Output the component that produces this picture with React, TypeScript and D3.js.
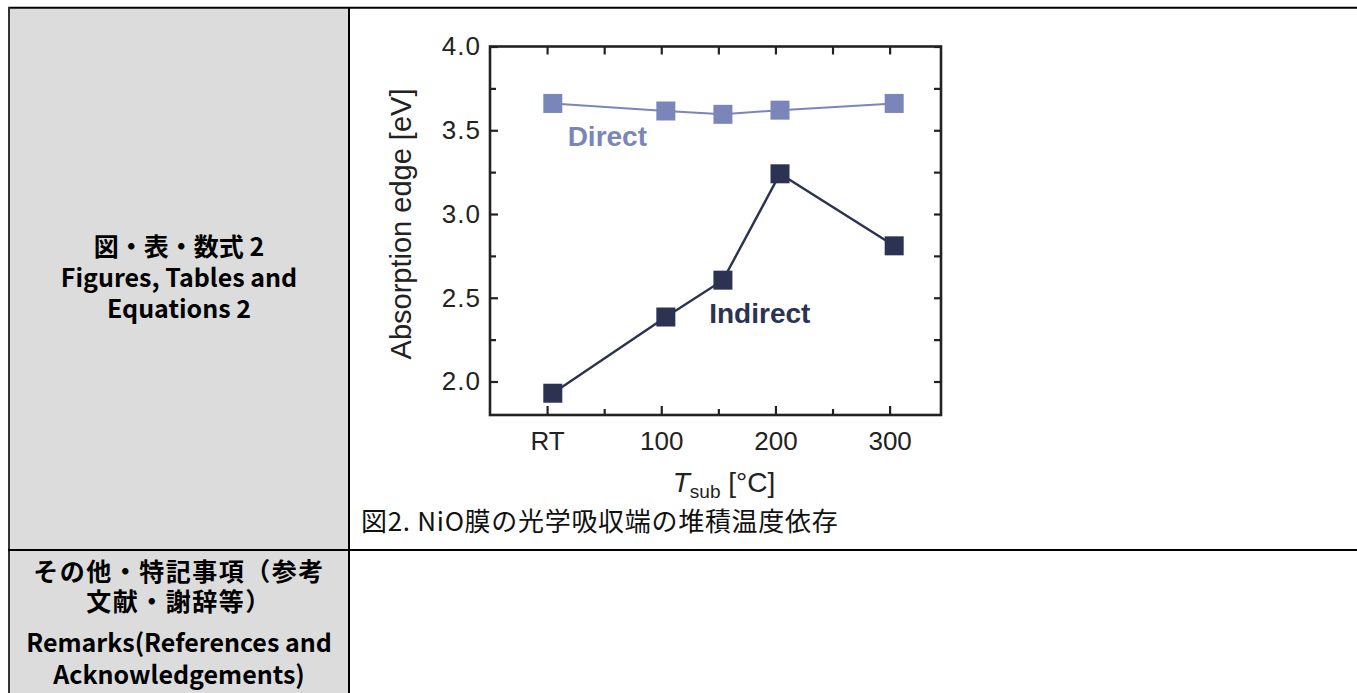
import React, { useEffect, useRef } from 'react';
import * as d3 from 'd3';

const width = 1357;
const height = 693;

// substrate temperature (RT drawn near 0) and the two absorption edges [eV]
const tempX = [5, 104, 154, 204, 304];
const directEdge = [3.66, 3.615, 3.595, 3.62, 3.66];
const indirectEdge = [1.93, 2.385, 2.605, 3.24, 2.81];

const xMajorTicks = [0, 100, 200, 300];
const xTickLabels = ['RT', '100', '200', '300'];
const xMinorTicks = [50, 150, 250];
const yMajorTicks = [2.0, 2.5, 3.0, 3.5, 4.0];
const yMinorTicks = [2.25, 2.75, 3.25, 3.75];

const seriesLabels = [
  { text: 'Direct', x: 18, y: 3.406, color: '#7a86b9' },
  { text: 'Indirect', x: 142, y: 2.349, color: '#2b3252' }
];

const leftTop = ['図・表・数式 2', 'Figures, Tables and', 'Equations 2'];
const leftBottom = ['その他・特記事項（参考', '文献・謝辞等）', 'Remarks(References and', 'Acknowledgements)'];
const caption = '図2. NiO膜の光学吸収端の堆積温度依存';

const plot = { left: 490, right: 941, top: 46.5, bottom: 415 };
const axisFont = 'Arial, "Liberation Sans", sans-serif';
const jpFont = '"Noto Sans CJK JP", "Noto Sans", sans-serif';

const xScale = d3.scaleLinear().domain([-50, 345]).range([plot.left, plot.right]);
const yScale = d3.scaleLinear().domain([1.8, 4.0]).range([plot.bottom, plot.top]);

export default function App() {
  const bottomRef = useRef<SVGGElement>(null);
  const bottomMinorRef = useRef<SVGGElement>(null);
  const topRef = useRef<SVGGElement>(null);
  const leftRef = useRef<SVGGElement>(null);
  const leftMinorRef = useRef<SVGGElement>(null);
  const rightRef = useRef<SVGGElement>(null);

  useEffect(() => {
    const bottom = d3.axisBottom(xScale).tickValues(xMajorTicks).tickSize(-9).tickSizeOuter(0).tickPadding(17)
      .tickFormat((d, i) => xTickLabels[i]);
    const bottomMinor = d3.axisBottom(xScale).tickValues(xMinorTicks).tickSize(-6).tickSizeOuter(0).tickFormat(() => '');
    const top = d3.axisTop(xScale).tickValues([...xMajorTicks, ...xMinorTicks]).tickSize(-8).tickSizeOuter(0).tickFormat(() => '');
    const left = d3.axisLeft(yScale).tickValues(yMajorTicks).tickSize(-8).tickSizeOuter(0).tickPadding(9)
      .tickFormat(d3.format('.1f'));
    const leftMinor = d3.axisLeft(yScale).tickValues(yMinorTicks).tickSize(-6).tickSizeOuter(0).tickFormat(() => '');
    const right = d3.axisRight(yScale).tickValues([...yMajorTicks, ...yMinorTicks]).tickSize(-7).tickSizeOuter(0).tickFormat(() => '');

    d3.select(bottomRef.current).call(bottom);
    d3.select(bottomMinorRef.current).call(bottomMinor);
    d3.select(topRef.current).call(top);
    d3.select(leftRef.current).call(left);
    d3.select(leftMinorRef.current).call(leftMinor);
    d3.select(rightRef.current).call(right);

    //style every axis the same way
    [bottomRef, bottomMinorRef, topRef, leftRef, leftMinorRef, rightRef].forEach(r => {
      const g = d3.select(r.current);
      g.select('.domain').remove();
      g.selectAll('line').attr('stroke', '#222').attr('stroke-width', 2.2);
      g.selectAll('text').attr('font-size', 26).attr('font-family', axisFont).attr('fill', '#222');
    });
    d3.select(leftRef.current).selectAll('text').attr('letter-spacing', 1);
  }, []);

  const line = d3.line<number>().x((d, i) => xScale(tempX[i])).y(d => yScale(d));
  const marker = 19;

  const series = [
    { values: directEdge, color: '#7a86b9', stroke: 2 },
    { values: indirectEdge, color: '#2b3252', stroke: 2.4 }
  ];

  return (
    <svg width={width} height={height} style={{ position: 'absolute', left: 0, top: 0, background: '#fff' }}>
      {/* TABLE */}
      <rect x={10} y={8.5} width={338} height={height} fill="#dcdcdc" />
      <line x1={8} y1={7.7} x2={width} y2={7.7} stroke="#000" strokeWidth={2} />
      <line x1={9} y1={7} x2={9} y2={height} stroke="#333" strokeWidth={2} />
      <line x1={349} y1={7} x2={349} y2={height} stroke="#000" strokeWidth={2} />
      <line x1={8} y1={550} x2={width} y2={550} stroke="#000" strokeWidth={2} />

      <g fontFamily={jpFont} fontWeight="bold" fontSize={25} textAnchor="middle" fill="#000">
        {leftTop.map((t, i) => (
          <text key={t} x={179} y={256 + i * 31}>{t}</text>
        ))}
        {leftBottom.map((t, i) => (
          <text key={t} x={179} y={[581, 611, 652, 684][i]} letterSpacing={i < 2 ? 1.5 : 0}>{t}</text>
        ))}
      </g>

      <text x={361} y={531} fontFamily={jpFont} fontSize={26} letterSpacing={0.7} fill="#111">{caption}</text>

      {/* PLOT */}
      <g ref={leftMinorRef} transform={`translate(${plot.left},0)`} />
      <g ref={leftRef} transform={`translate(${plot.left},0)`} />
      <g ref={rightRef} transform={`translate(${plot.right},0)`} />
      <g ref={bottomMinorRef} transform={`translate(0,${plot.bottom})`} />
      <g ref={bottomRef} transform={`translate(0,${plot.bottom})`} />
      <g ref={topRef} transform={`translate(0,${plot.top})`} />
      <rect x={plot.left} y={plot.top} width={plot.right - plot.left} height={plot.bottom - plot.top}
        fill="none" stroke="#222" strokeWidth={2.6} />

      {series.map(s => (
        <g key={s.color}>
          <path d={line(s.values) || ''} fill="none" stroke={s.color} strokeWidth={s.stroke} />
          {s.values.map((v, i) => (
            <rect key={i} x={xScale(tempX[i]) - marker / 2} y={yScale(v) - marker / 2}
              width={marker} height={marker} fill={s.color} />
          ))}
        </g>
      ))}

      {seriesLabels.map(l => (
        <text key={l.text} x={xScale(l.x)} y={yScale(l.y)} fontFamily={axisFont} fontWeight="bold"
          fontSize={28} fill={l.color}>{l.text}</text>
      ))}

      <text transform={`translate(411,224) rotate(-90)`} textAnchor="middle" fontFamily={axisFont}
        fontSize={29} fill="#222">Absorption edge [eV]</text>
      <text x={724} y={492} textAnchor="middle" fontFamily={axisFont} fontSize={28} fill="#222">
        <tspan fontStyle="italic">T</tspan>
        <tspan fontSize={19} dy={6}>sub</tspan>
        <tspan dy={-6}> [°C]</tspan>
      </text>
    </svg>
  );
}
